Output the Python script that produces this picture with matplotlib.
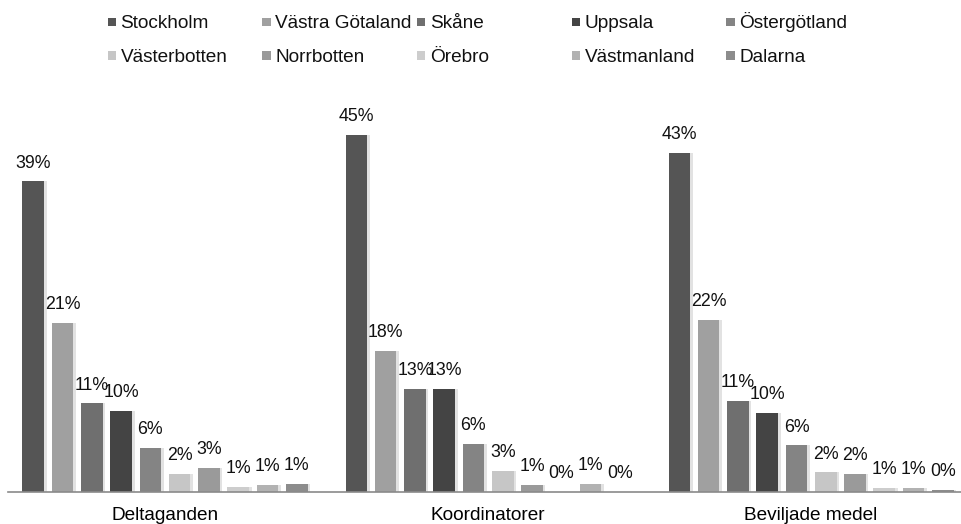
import matplotlib
matplotlib.use("Agg")
import matplotlib.pyplot as plt
from matplotlib.patches import Rectangle

plt.rcParams['font.family'] = ['Liberation Sans', 'DejaVu Sans']

categories = ['Deltaganden', 'Koordinatorer', 'Beviljade medel']
regions = ['Stockholm', 'Västra Götaland', 'Skåne', 'Uppsala', 'Östergötland',
           'Västerbotten', 'Norrbotten', 'Örebro', 'Västmanland', 'Dalarna']
colors = ['#555555', '#a0a0a0', '#6f6f6f', '#444444', '#848484',
          '#c6c6c6', '#9a9a9a', '#cdcdcd', '#b2b2b2', '#8c8c8c']

# share in percent, one list per region (Deltaganden, Koordinatorer, Beviljade medel)
stockholm = [39.0, 44.9, 42.6]
vastra_gotaland = [21.2, 17.7, 21.6]
skane = [11.1, 12.9, 11.4]
uppsala = [10.1, 12.9, 9.9]
ostergotland = [5.5, 6.0, 5.8]
vasterbotten = [2.2, 2.6, 2.4]
norrbotten = [3.0, 0.8, 2.2]
orebro = [0.6, 0.0, 0.5]
vastmanland = [0.8, 1.0, 0.5]
dalarna = [1.0, 0.0, 0.2]

series = [stockholm, vastra_gotaland, skane, uppsala, ostergotland,
          vasterbotten, norrbotten, orebro, vastmanland, dalarna]

W, H = 961, 524
fig = plt.figure(figsize=(W / 100, H / 100), dpi=100)
ax = fig.add_axes([8 / W, (H - 491.5) / H, 1 - 8 / W, (491.5 - 94) / H])

slot = 0.0906
width = 0.067
xs = list(range(len(categories)))
for i, (name, vals) in enumerate(zip(regions, series)):
    pos = [x + (i - 4.5) * slot for x in xs]
    # soft shadow like the original office chart
    ax.bar([p + 0.008 for p in pos], vals, width=width, color='#e2e2e2', zorder=1)
    ax.bar(pos, vals, width=width, color=colors[i], zorder=2, label=name)
    for p, v in zip(pos, vals):
        ax.annotate('{}%'.format(int(v + 0.5)), (p, v), xytext=(0, 7),
                    textcoords='offset points', ha='center', va='bottom',
                    fontsize=12.8, color='#111111', zorder=3)

ax.set_xlim(-0.486, 2.464)
ax.set_ylim(0, 50)
ax.set_xticks(xs)
ax.set_xticklabels(categories, fontsize=13.7)
ax.tick_params(axis='x', length=0, pad=11)
ax.set_yticks([])
for s in ['top', 'right', 'left']:
    ax.spines[s].set_visible(False)
ax.spines['bottom'].set_color('#8a8a8a')
ax.spines['bottom'].set_linewidth(1.2)

# legend laid out in a fixed 5 x 2 grid
for i, (name, c) in enumerate(zip(regions, colors)):
    col, row = i % 5, i // 5
    x0 = 107.5 + col * 154.7
    yc = 21.8 + row * 33.5
    fig.add_artist(Rectangle((x0 / W, 1 - (yc + 4.2) / H), 8.5 / W, 8.5 / H,
                             transform=fig.transFigure, color=c, lw=0))
    fig.text((x0 + 13) / W, 1 - (yc + 6.6) / H, name, fontsize=13.7,
             color='#111111', ha='left', va='baseline')

plt.savefig('out.png', dpi=100)
